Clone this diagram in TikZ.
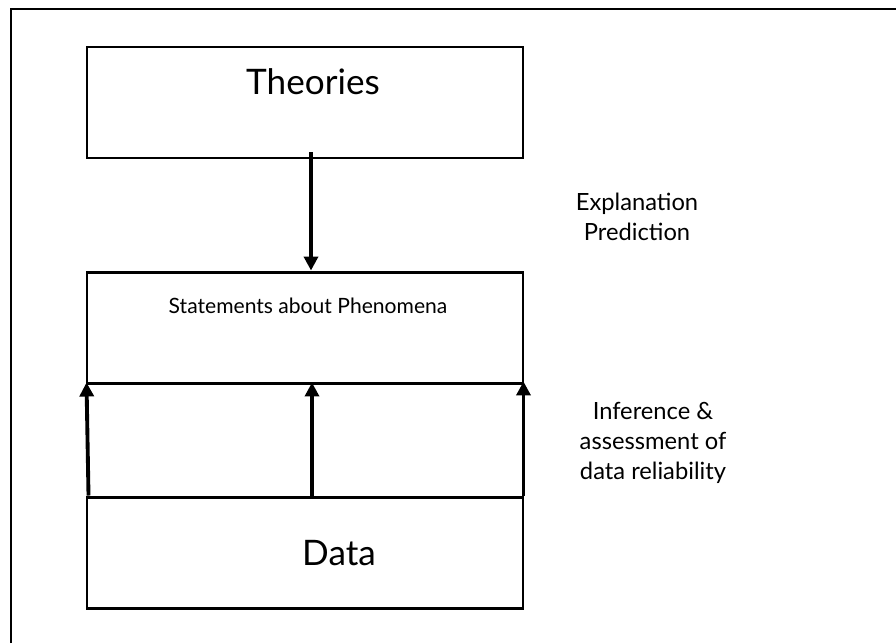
\documentclass[tikz,border=0pt]{standalone}
\usepackage{fontspec}
\setmainfont{Lato}
\usetikzlibrary{arrows.meta}
\begin{document}
\begin{tikzpicture}[x=0.02cm, y=-0.02cm, >={Triangle[length=0.28cm,width=0.28cm]},
  box/.style={draw, line width=1.7pt, minimum width=436*0.02cm, minimum height=111*0.02cm, inner sep=0pt},
  big/.style={font=\fontsize{20}{24}\selectfont},
  mid/.style={font=\fontsize{12}{14}\selectfont},
  side/.style={font=\fontsize{13.5}{17}\selectfont, align=center},
  arr/.style={->, line width=2.2pt}]
  \useasboundingbox (0,0) rectangle (896,643);
  \draw[line width=1.7pt] (11,643) -- (11,9) -- (896,9);
  \node[box] (theo) at (305,102.5) {};
  \node[box] (stmt) at (305,327.5) {};
  \node[box] (data) at (305,552.5) {};
  \node[big]  (theot) at (313,82)  {Theories};
  \node[mid]  (stmtt) at (308,306) {Statements about Phenomena};
  \node[big]  (datat) at (339,553) {Data};
  \node[side] (expl)  at (637,217) {Explanation\\Prediction};
  \node[side] (infer) at (653,443) {Inference \&\\assessment of\\data reliability};
  \draw[arr] ([shift={(6,-7)}]theo.south) -- ([shift={(6,0)}]stmt.north);
  \draw[arr] ([shift={(3,0)}]data.north west) -- ([shift={(1,-2)}]stmt.south west);
  \draw[arr] ([shift={(7,0)}]data.north) -- ([shift={(7,-2)}]stmt.south);
  \draw[arr] ([shift={(-1,0)}]data.north east) -- ([shift={(-1,-3)}]stmt.south east);
\end{tikzpicture}
\end{document}
